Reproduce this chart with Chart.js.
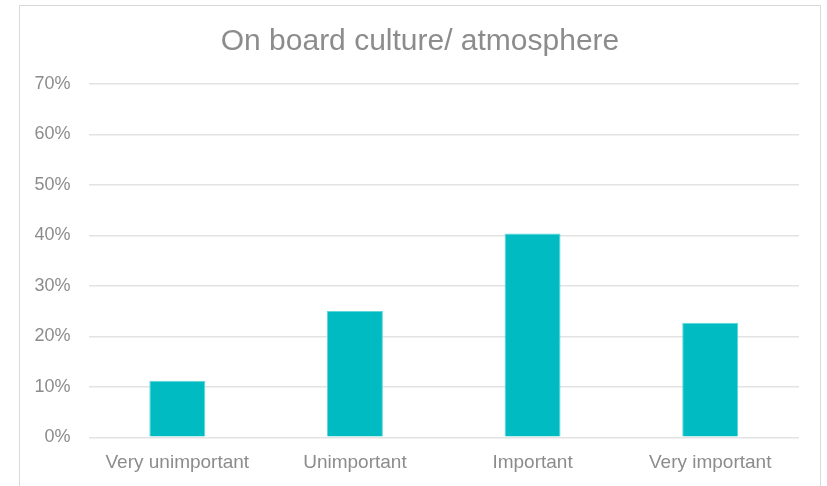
<!DOCTYPE html>
<html>
<head>
<meta charset="utf-8">
<script src="https://cdn.jsdelivr.net/npm/chart.js@4"></script>
<style>
  html, body { margin: 0; padding: 0; background: #fff; }
  #wrap { position: relative; width: 827px; height: 486px; overflow: hidden; }
  #frame { position: absolute; left: 19px; top: 5px; width: 802px; height: 520px; border: 1px solid #d9d9d9; box-sizing: border-box; }
  canvas { position: absolute; left: 0; top: 0; }
</style>
</head>
<body>
<div id="wrap">
  <div id="frame"></div>
  <canvas id="chart" width="827" height="486"></canvas>
</div>
<script>
const categories = ["Very unimportant", "Unimportant", "Important", "Very important"];
const shares = [11.2, 25.0, 40.4, 22.7];
const chartTitle = "On board culture/ atmosphere";

const FONT = "'Liberation Sans', Arial, sans-serif";
const GREY = "#8c8c8c";

// centre the title over the frame rather than over the whole canvas
const titleShift = {
  id: "titleShift",
  afterLayout(chart) {
    if (chart.titleBlock) chart.titleBlock.left = 41;
  },
};

new Chart(document.getElementById("chart"), {
  type: "bar",
  data: {
    labels: categories,
    datasets: [
      {
        data: shares,
        backgroundColor: "#00bbc2",
        borderColor: "#5fd6db",
        borderWidth: { top: 1, left: 1, right: 1, bottom: 0 },
        barPercentage: 0.315,
        categoryPercentage: 1,
      },
    ],
  },
  options: {
    responsive: false,
    animation: false,
    layout: { padding: { left: 0, right: 28, top: 0, bottom: 0 } },
    scales: {
      x: {
        grid: { display: false, drawTicks: false },
        border: { display: false },
        ticks: {
          color: GREY,
          font: { family: FONT, size: 19 },
          padding: 14,
          maxRotation: 0,
        },
        afterFit: (scale) => {
          scale.height = 48.7;
        },
      },
      y: {
        min: 0,
        max: 70,
        ticks: {
          stepSize: 10,
          color: GREY,
          font: { family: FONT, size: 18 },
          padding: 18,
          callback: (v) => v + "%",
        },
        grid: { color: "#e3e3e3", lineWidth: 1.5, drawTicks: false },
        border: { display: false },
        afterFit: (scale) => {
          scale.width = 88.5;
        },
      },
    },
    plugins: {
      legend: { display: false },
      tooltip: { enabled: false },
      title: {
        display: true,
        text: chartTitle,
        color: GREY,
        font: { family: FONT, size: 30, weight: "normal" },
        padding: { top: 24, bottom: 24 },
      },
    },
  },
  plugins: [titleShift],
});
</script>
</body>
</html>
